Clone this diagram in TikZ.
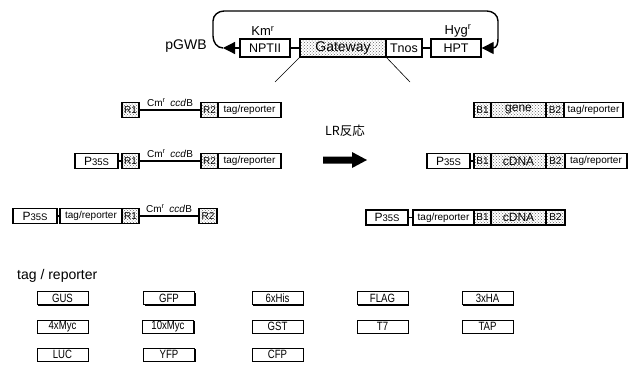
\documentclass[tikz,border=0pt]{standalone}
\usepackage{fontspec}
\setmainfont{Liberation Sans}
\newfontfamily\jpfont{Noto Sans CJK JP}
\newfontfamily\narrowfont[FakeStretch=0.8]{Liberation Sans}
\usetikzlibrary{patterns,arrows.meta,shadows}
\newcommand\PtfS{{\fontsize{12}{12}\selectfont P\fontsize{9.5}{9.5}\selectfont 35S}}
\newcommand\CmLbl{Cm\textsuperscript{r}\enspace\textit{ccd}B}
\begin{document}
\begin{tikzpicture}[x=1pt,y=-1pt,
  conn/.style={line width=1.2pt},
  tbox/.style={draw, line width=1.4pt, inner sep=0pt, minimum height=18pt, font=\fontsize{12.5}{13}\selectfont},
  tdot/.style={tbox, pattern=crosshatch dots, pattern color=black!60},
  wbox/.style={draw, line width=1.5pt, inner sep=0pt, minimum height=15pt, fill=white},
  dbox/.style={draw, line width=1.5pt, inner sep=0pt, minimum height=15pt, pattern=crosshatch dots, pattern color=black!60},
  rbox/.style={dbox, minimum width=17pt, font=\fontsize{10}{10}\selectfont},
  gbox/.style={dbox, minimum width=55pt, font=\fontsize{12}{12}\selectfont},
  trbox/.style={wbox, font=\fontsize{10}{10}\selectfont},
  pbox/.style={wbox},
  cmlbl/.style={anchor=base, inner sep=0pt, font=\fontsize{10}{10}\selectfont},
  lbl/.style={font=\fontsize{13}{13}\selectfont, inner sep=0pt},
  tagbox/.style={draw, line width=.9pt, fill=white, minimum width=51pt, minimum height=13pt, inner sep=0pt,
    font=\narrowfont\fontsize{12}{12}\selectfont,
    drop shadow={shadow xshift=1pt, shadow yshift=-1pt, fill=black, opacity=1}},
  tri/.style={-{Triangle[length=12pt,width=12pt]}}
]
\useasboundingbox (0,0) rectangle (631,389);

% ---------- top: pGWB vector ----------
\node[font=\fontsize{14}{14}\selectfont, inner sep=0pt] (pgwb) at (186,46) {pGWB};
\node[tbox, minimum width=50pt] (nptii) at (265,48) {NPTII};
\node[tdot, minimum width=86pt, font=\fontsize{14}{14}\selectfont] (gw) at (343,48) {Gateway};
\node[tbox, minimum width=36pt] (tnos) at (404,48) {Tnos};
\node[tbox, minimum width=50pt] (hpt) at (456,48) {HPT};
\node[lbl] (km) at (263,31) {Km\textsuperscript{r}};
\node[lbl] (hyg) at (458,31) {Hyg\textsuperscript{r}};
\draw[conn] (nptii.east) -- (gw.west);
\draw[conn] (tnos.east) -- (hpt.west);
\coordinate (lt) at (223,48);
\draw[conn, tri] (nptii.west) -- (lt);
\draw[conn, line width=1.4pt, tri] (lt) to[out=180,in=-90] (213,36) -- (213,21) to[out=90,in=180] (224,11)
   -- (487,11) to[out=0,in=90] (498,21) -- (498,38) to[out=-90,in=0] (493,48) -- (hpt.east);
\coordinate (gl) at (275,82);
\coordinate (gr) at (410,82);
\draw[line width=.6pt] (gw.south west) -- (gl);
\draw[line width=.6pt] (gw.south east) -- (gr);

% ---------- left rows ----------
% row 1
\node[rbox] (aR1) at (130.5,110) {R1};
\node[rbox] (aR2) at (209.5,110) {R2};
\node[trbox, minimum width=63pt] (aT) at (249.5,110) {tag/reporter};
\draw[conn] (aR1.east) -- (aR2.west);
\node[cmlbl] (aL) at (170,106.5) {\CmLbl};
% row 2
\node[pbox, minimum width=43pt] (bP) at (96.5,161) {\PtfS};
\node[rbox] (bR1) at (130.5,161) {R1};
\node[rbox] (bR2) at (209.5,161) {R2};
\node[trbox, minimum width=63pt] (bT) at (249.5,161) {tag/reporter};
\draw[conn] (bP.east) -- (bR1.west);
\draw[conn] (bR1.east) -- (bR2.west);
\node[cmlbl] (bL) at (170,157.5) {\CmLbl};
% row 3
\node[pbox, minimum width=44pt] (cP) at (35,216) {\PtfS};
\node[trbox, minimum width=62pt] (cT) at (91,216) {tag/reporter};
\node[rbox] (cR1) at (130.5,216) {R1};
\node[rbox, minimum width=18pt] (cR2) at (208,216) {R2};
\draw[conn] (cP.east) -- (cT.west);
\draw[conn] (cR1.east) -- (cR2.west);
\node[cmlbl] (cL) at (169,212.5) {\CmLbl};

% ---------- LR reaction ----------
\node[font=\jpfont\fontsize{12.5}{13}\selectfont, inner sep=0pt] (lr) at (345,131) {LR反応};
\fill (323,156.5) -- (352,156.5) -- (352,152) -- (367,160) -- (352,168) -- (352,163.5) -- (323,163.5) -- cycle;

% ---------- right rows ----------
% row 1
\node[rbox] (dB1) at (482.5,110) {B1};
\node[gbox] (dG) at (518.5,110) {gene};
\node[rbox, minimum width=18pt] (dB2) at (555,110) {B2};
\node[trbox, minimum width=59pt] (dT) at (593.5,110) {tag/reporter};
% row 2
\node[pbox, minimum width=43pt] (eP) at (448.5,161) {\PtfS};
\node[rbox] (eB1) at (482.5,161) {B1};
\node[gbox] (eG) at (518.5,161) {cDNA};
\node[rbox, minimum width=19pt] (eB2) at (555.5,161) {B2};
\node[trbox, minimum width=62pt] (eT) at (596,161) {tag/reporter};
\draw[conn] (eP.east) -- (eB1.west);
% row 3
\node[pbox, minimum width=42pt] (fP) at (387,217.5) {\PtfS};
\node[trbox, minimum width=61pt] (fT) at (443.5,217.5) {tag/reporter};
\node[rbox] (fB1) at (482.5,217.5) {B1};
\node[gbox] (fG) at (518.5,217.5) {cDNA};
\node[rbox, minimum width=19pt] (fB2) at (555.5,217.5) {B2};
\draw[conn] (fP.east) -- (fT.west);

% ---------- tag list ----------
\node[anchor=west, font=\fontsize{14}{14}\selectfont, inner sep=0pt] (taghead) at (17,276) {tag / reporter};
\node[tagbox] (t1) at (62.5,298) {GUS};
\node[tagbox] (t2) at (169,298) {GFP};
\node[tagbox] (t3) at (277.5,298) {6xHis};
\node[tagbox] (t4) at (382.5,298) {FLAG};
\node[tagbox] (t5) at (487.5,298) {3xHA};
\node[tagbox] (t6) at (62.5,326.5) {4xMyc};
\node[tagbox] (t7) at (168,326.5) {10xMyc};
\node[tagbox] (t8) at (277.5,326.5) {GST};
\node[tagbox] (t9) at (382.5,326.5) {T7};
\node[tagbox] (t10) at (487.5,326.5) {TAP};
\node[tagbox] (t11) at (62.5,354.5) {LUC};
\node[tagbox] (t12) at (169,354.5) {YFP};
\node[tagbox] (t13) at (277.5,354.5) {CFP};
\end{tikzpicture}
\end{document}
